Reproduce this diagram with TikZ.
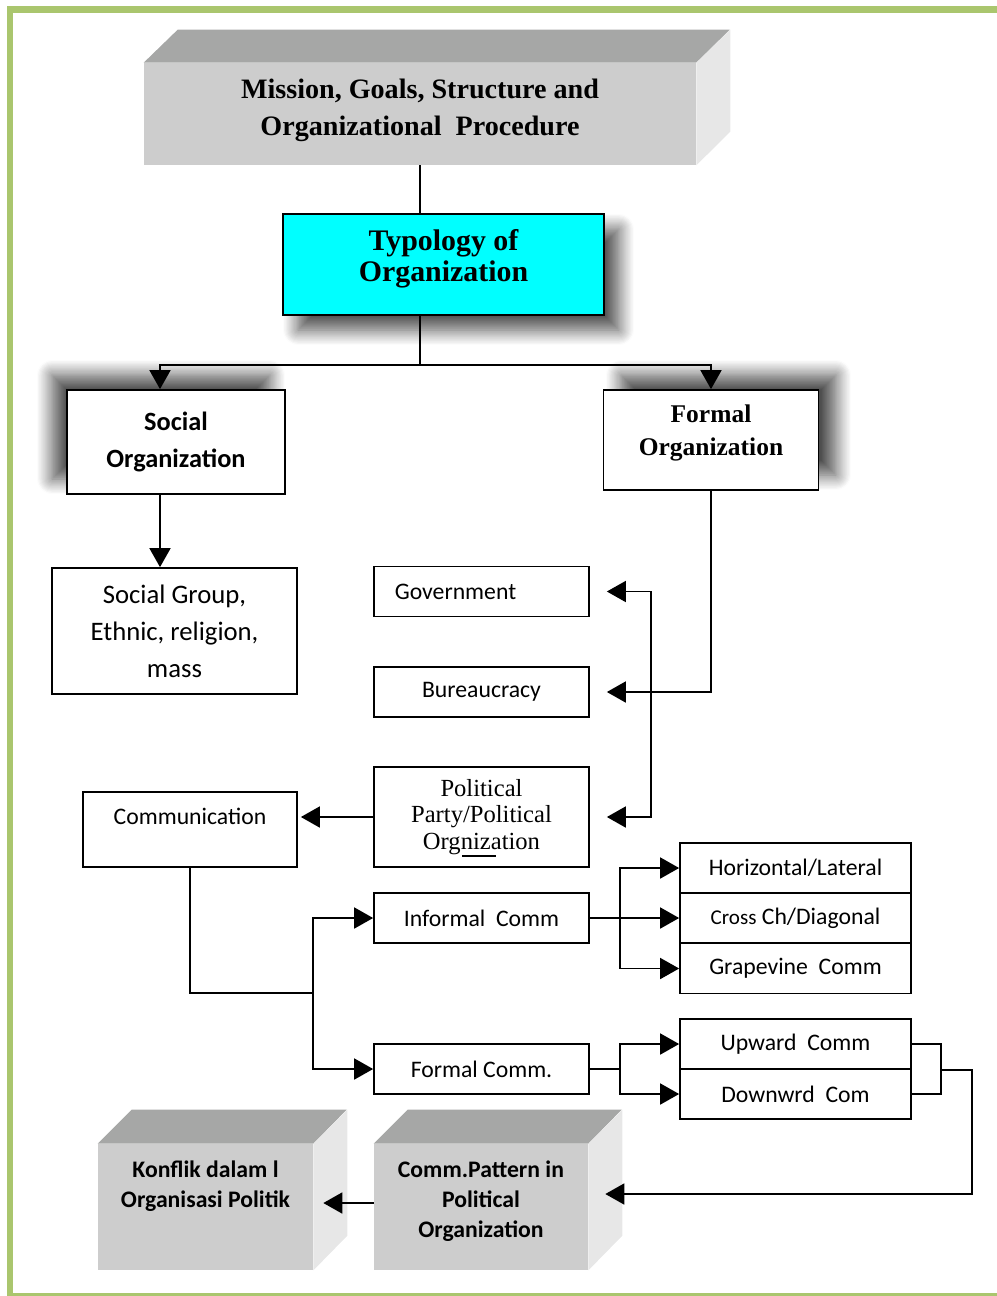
\documentclass[tikz,border=0pt]{standalone}
\usepackage{fontspec}
\setmainfont{Liberation Serif}
\newfontfamily\calibri{Carlito}
\usepackage{tikz}
\usetikzlibrary{arrows.meta, positioning, shadows.blur}
\definecolor{framegreen}{HTML}{AAC66E}
\definecolor{facegrey}{HTML}{CDCDCD}
\definecolor{topgrey}{HTML}{A6A7A6}
\definecolor{sidegrey}{HTML}{E7E7E7}
\definecolor{typocyan}{HTML}{00FFFF}
\tikzstyle{link}=[line width=1pt]
\tikzstyle{arr}=[line width=1pt,-{Triangle[length=0.38cm,width=0.42cm]}]
\tikzstyle{box}=[draw,line width=1pt,fill=white,align=center,inner sep=0pt]
\tikzstyle{commbox}=[box,minimum width=4.3cm,minimum height=1cm,font=\calibri\fontsize{13.5}{16}\selectfont]
\tikzstyle{stackbox}=[commbox,minimum width=4.62cm]
\tikzstyle{face}=[fill=facegrey,inner sep=0pt]
\tikzstyle{facetext}=[align=center,inner sep=0pt,font=\calibri\bfseries\fontsize{13.5}{17}\selectfont]
\tikzstyle{soft}=[shadow blur radius=0.3cm,shadow blur steps=14,shadow opacity=70]

\begin{document}
\begin{tikzpicture}[x=0.02cm,y=-0.02cm]
  \useasboundingbox (0,0) rectangle (997,1296);
  \fill[framegreen] (7,6) rectangle (997,13);
  \fill[framegreen] (7,6) rectangle (13,1296);
  \fill[framegreen] (7,1293) rectangle (997,1296);

  % top block
  \node[face,minimum width=11.04cm,minimum height=2.04cm] (mission) at (420,114) {};
  \fill[topgrey] (mission.north west) -- ++(34,-33) -- ++(552,0) -- (mission.north east) -- cycle;
  \fill[sidegrey] (mission.north east) -- ++(34,-33) -- ++(0,102) -- (mission.south east) -- cycle;
  \node[align=center,font=\fontsize{16}{21}\selectfont\bfseries] (missiontext) at (420,110.5) {Mission, Goals, Structure and\\Organizational\ \ Procedure};

  \node[box,fill=typocyan,minimum width=6.42cm,minimum height=2.02cm,blur shadow={soft,shadow xshift=0.3cm,shadow yshift=-0.3cm}] (typo) at (443.5,264.5) {};
  \node[align=center,font=\fontsize{17}{17.5}\selectfont\bfseries] (typotext) at (443.5,259) {Typology of\\Organization};

  \node[box,minimum width=4.36cm,minimum height=2.08cm,blur shadow={soft,shadow xshift=-0.3cm,shadow yshift=0.3cm},font=\calibri\bfseries\fontsize{15}{21}\selectfont] (social) at (176,442) {Social\\Organization};
  \node[box,minimum width=4.3cm,minimum height=2cm,blur shadow={soft,shadow xshift=0.35cm,shadow yshift=0.3cm}] (formal) at (711,440) {};
  \node[align=center,font=\bfseries\fontsize{14.5}{19}\selectfont] (formaltext) at (711,433) {Formal\\Organization};

  \node[box,minimum width=4.9cm,minimum height=2.52cm,font=\calibri\fontsize{15.2}{21}\selectfont] (socgroup) at (174.5,631) {Social Group,\\Ethnic, religion,\\mass};

  \node[commbox] (gov) at (481.5,591.5) {Government\hspace*{1.04cm}};
  \node[commbox] (bureau) at (481.5,692) {Bureaucracy};
  \node[box,minimum width=4.3cm,minimum height=2cm,font=\fontsize{14}{15}\selectfont] (party) at (481.5,817) {Political\\Party/Political\\Orgnization};
  \draw[line width=0.6pt] (462,856) -- (496,856);
  \node[commbox,minimum width=4.28cm,minimum height=1.5cm,text height=0.3cm,text depth=0.5cm] (comm) at (190,829.5) {Communication};
  \node[commbox] (informal) at (481.5,918) {Informal\ \ Comm};
  \node[commbox] (formalc) at (481.5,1069) {Formal Comm.};

  \node[stackbox] (horiz) at (795.5,868) {Horizontal/Lateral};
  \node[stackbox] (cross) at (795.5,918) {{\fontsize{12}{14}\selectfont Cross} Ch/Diagonal};
  \node[stackbox] (grape) at (795.5,968.5) {Grapevine\ \ Comm};
  \node[stackbox] (upward) at (795.5,1044) {Upward\ \ Comm};
  \node[stackbox] (downward) at (795.5,1094) {Downwrd\ \ Com};

  % bottom blocks
  \node[face,minimum width=4.28cm,minimum height=2.52cm] (pattern) at (481,1207) {};
  \fill[topgrey] (pattern.north west) -- ++(34,-34) -- ++(214,0) -- (pattern.north east) -- cycle;
  \fill[sidegrey] (pattern.north east) -- ++(34,-34) -- ++(0,126) -- (pattern.south east) -- cycle;
  \node[facetext] (patterntext) at (481,1201) {Comm.Pattern in\\Political\\Organization};
  \node[face,minimum width=4.3cm,minimum height=2.52cm] (konflik) at (205.5,1207) {};
  \fill[topgrey] (konflik.north west) -- ++(34,-34) -- ++(215,0) -- (konflik.north east) -- cycle;
  \fill[sidegrey] (konflik.north east) -- ++(34,-34) -- ++(0,126) -- (konflik.south east) -- cycle;
  \node[facetext] (konfliktext) at (205.5,1186) {Konflik dalam l\\Organisasi Politik};

  % connectors
  \coordinate (split) at (420,365);
  \draw[link] (mission.south) -- (mission.south |- typo.north);
  \draw[link] (mission.south |- typo.south) -- (split);
  \draw[arr] (split) -| (160,0 |- social.north);
  \draw[arr] (split) -| (formal.north);
  \draw[arr] (160,0 |- social.south) -- (160,0 |- socgroup.north);

  \draw[arr,shorten >=0.34cm] (formal.south) |- (bureau.east);
  \draw[arr,shorten >=0.34cm] (651,0 |- bureau.east) |- (gov.east);
  \draw[arr,shorten >=0.34cm] (651,0 |- bureau.east) |- (party.east);
  \draw[arr,shorten >=0.06cm] (party.west) -- (party.west -| comm.east);

  \coordinate (commjoin) at (313,993);
  \draw[link] (comm.south) |- (commjoin);
  \draw[arr] (commjoin) |- (informal.west);
  \draw[arr] (commjoin) |- (formalc.west);

  \draw[arr] (informal.east) -- (cross.west);
  \draw[arr] (620,0 |- informal.east) |- (horiz.west);
  \draw[arr] (620,0 |- informal.east) |- (grape.west);
  \draw[link] (formalc.east) -- (620,0 |- formalc.east);
  \draw[arr] (620,0 |- formalc.east) |- (upward.west);
  \draw[arr] (620,0 |- formalc.east) |- (downward.west);

  \draw[link] (upward.east) -| (941,0 |- downward.east) -- (downward.east);
  \coordinate (back) at (972,1194);
  \draw[arr,shorten >=0.34cm] (941,0 |- upward.south) -| (back) -- (back -| pattern.east);
  \draw[arr] (pattern.west |- 0,1203) -- ([xshift=0.2cm]konflik.east |- 0,1203);
\end{tikzpicture}
\end{document}
